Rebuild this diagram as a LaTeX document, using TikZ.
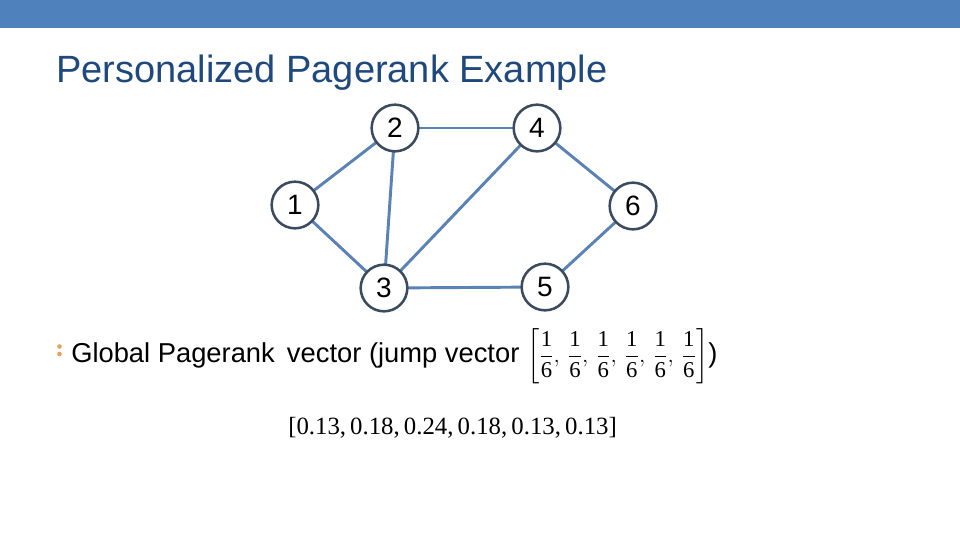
\documentclass[tikz,border=0pt]{standalone}
\usepackage{fontspec}
\usepackage{amsmath}
\setmainfont{Liberation Sans}
\newfontfamily\serifnum{Liberation Serif}
\definecolor{band}{HTML}{4F81BD}
\definecolor{titleblue}{HTML}{1F497D}
\definecolor{edgeblue}{HTML}{5A82B4}
\definecolor{ringgray}{HTML}{3C4A5E}
\definecolor{bulletorange}{HTML}{E8A05A}
\newcommand{\sfr}{\dfrac{\text{\serifnum 1}}{\text{\serifnum 6}}}
\newcommand{\fsep}{,\,}
\tikzset{
  vertex/.style={circle, draw=ringgray, line width=1.9pt, fill=white, minimum size=35pt, inner sep=0pt, font=\fontsize{21}{25}\selectfont},
  link/.style={draw=edgeblue, line width=2.2pt},
}
\begin{document}
\begin{tikzpicture}[x=0.75pt,y=-0.75pt]
\useasboundingbox (0,0) rectangle (960,540);
\fill[white] (0,0) rectangle (960,540);
\fill[band] (0,0) rectangle (960,28);
\node[anchor=base west, inner sep=0pt, text=titleblue, font=\fontsize{28.5}{33}\selectfont] (title) at (56,82) {Personalized Pagerank Example};
% node centres
\coordinate (p1) at (295,205);
\coordinate (p2) at (395,128);
\coordinate (p3) at (384,288);
\coordinate (p4) at (537,128);
\coordinate (p5) at (545,287);
\coordinate (p6) at (633,206);
\draw[link] (p1) -- (p2);
\draw[link] (p1) -- (p3);
\draw[link] (p2) -- (p3);
\draw[link] (p2) -- (p4);
\draw[link] (p3) -- (p4);
\draw[link] (p3) -- (p5);
\draw[link] (p4) -- (p6);
\draw[link] (p5) -- (p6);
\node[vertex] (n1) at (p1) {1};
\node[vertex] (n2) at (p2) {2};
\node[vertex] (n3) at (p3) {3};
\node[vertex] (n4) at (p4) {4};
\node[vertex] (n5) at (p5) {5};
\node[vertex] (n6) at (p6) {6};
% bullet
\fill[bulletorange] (59.5,346.5) circle (2.3);
\fill[bulletorange] (59.5,354) circle (2.3);
\node[anchor=base west, inner sep=0pt, font=\fontsize{20.5}{24}\selectfont] (bullet) at (71,362) {Global Pagerank\, vector (jump vector {\fontsize{17}{20}\selectfont$\left[\sfr\fsep\sfr\fsep\sfr\fsep\sfr\fsep\sfr\fsep\sfr\right]$})};
\node[anchor=base west, inner sep=0pt, font=\fontsize{18.6}{22}\selectfont\serifnum] (result) at (288,434) {[0.13,\,0.18,\,0.24,\,0.18,\,0.13,\,0.13]};
\end{tikzpicture}
\end{document}
